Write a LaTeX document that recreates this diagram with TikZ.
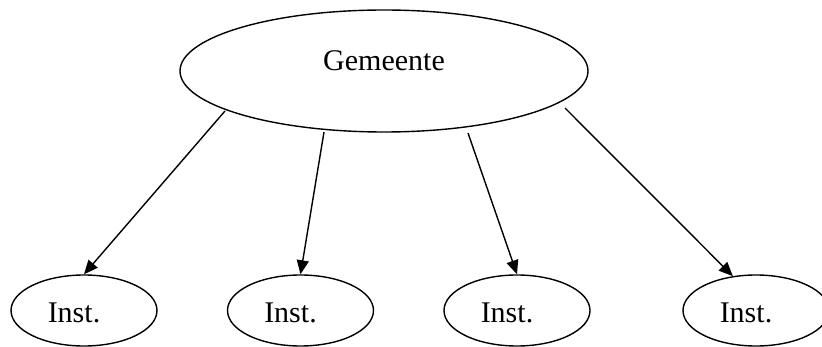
\documentclass[tikz,border=0pt]{standalone}
\usepackage{fontspec}
\setmainfont{Liberation Serif}
\usetikzlibrary{arrows.meta,shapes.geometric}
\begin{document}
\begin{tikzpicture}[x=1pt,y=-1pt,
  oval/.style={draw, ellipse, line width=1.4pt, inner sep=0pt},
  bigoval/.style={oval, minimum width=408pt, minimum height=122pt},
  smalloval/.style={oval, minimum width=146pt, minimum height=71pt},
  lbl/.style={font=\fontsize{30}{36}\selectfont, anchor=base, inner sep=0pt},
  link/.style={line width=1.4pt, -{Triangle[length=14pt,width=12pt]}}]
\useasboundingbox (0,0) rectangle (822,347);
% municipality
\node[bigoval] (g) at (384,71) {};
\node[lbl] (gt) at (384,71) {Gemeente};
% institutions
\node[smalloval] (i1) at (84,310.5) {};
\node[smalloval] (i2) at (300.5,310.5) {};
\node[smalloval] (i3) at (517,310.5) {};
\node[smalloval] (i4) at (756,310.5) {};
\node[lbl] (t1) at (74,323) {Inst.};
\node[lbl] (t2) at (290.5,323) {Inst.};
\node[lbl] (t3) at (507,323) {Inst.};
\node[lbl] (t4) at (746,323) {Inst.};
% links leave just below the rim of the large oval
\coordinate (s1) at ([shift={(-159,40)}]g.center);
\coordinate (s2) at ([shift={(-60,61)}]g.center);
\coordinate (s3) at ([shift={(84,62)}]g.center);
\coordinate (s4) at ([shift={(181,37)}]g.center);
\draw[link] (s1) -- (i1.north);
\draw[link] (s2) -- (i2.north);
\draw[link] (s3) -- (i3.north);
\draw[link] (s4) -- (i4.124);
\end{tikzpicture}
\end{document}
